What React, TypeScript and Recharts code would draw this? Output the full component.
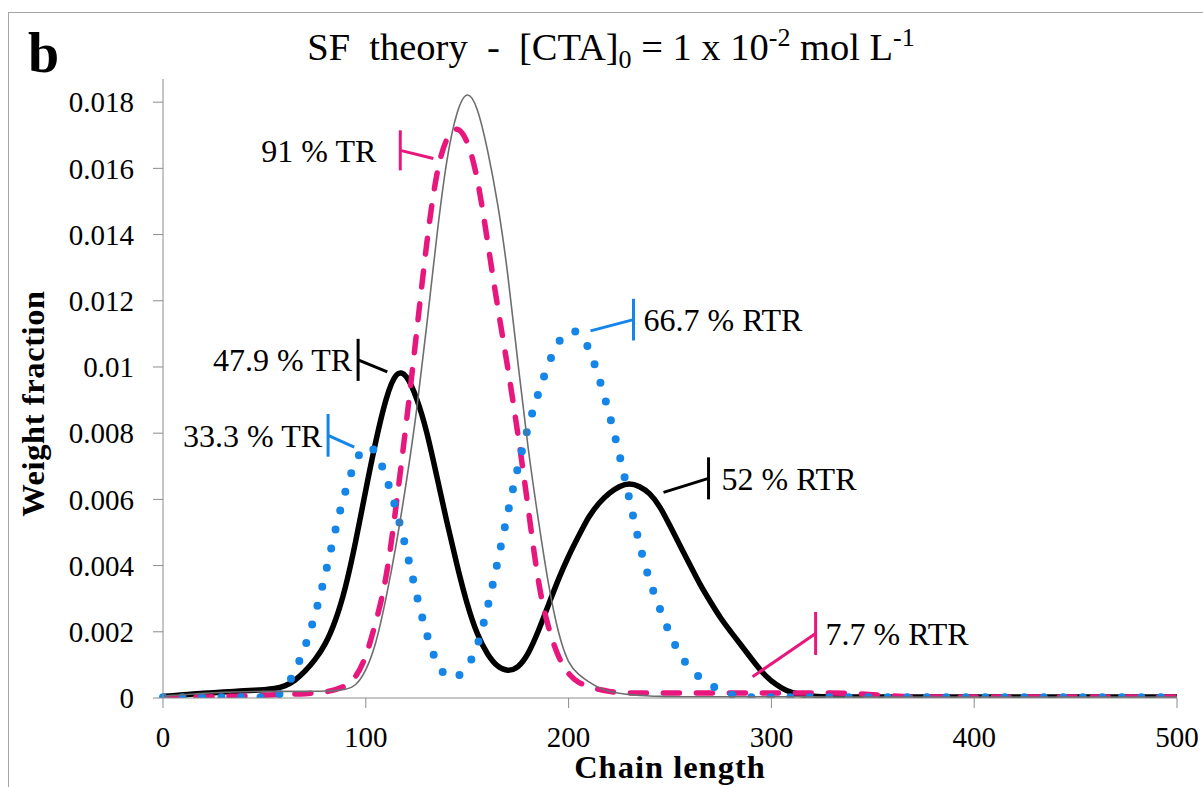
import React from "react";
import {
  LineChart,
  Line,
  XAxis,
  YAxis,
  ReferenceLine,
  ReferenceDot,
} from "recharts";

// chain length grid (x)
const chainLength = [
  0, 5, 10, 15, 20, 25, 30, 35, 40, 45, 50, 55, 60, 65, 70, 75, 80, 85, 90, 95,
  100, 105, 110, 115, 120, 125, 130, 135, 140, 145, 150, 155, 160, 165, 170, 175,
  180, 185, 190, 195, 200, 205, 210, 215, 220, 225, 230, 235, 240, 245, 250, 255,
  260, 265, 270, 275, 280, 285, 290, 295, 300, 305, 310, 315, 320,
  330, 340, 350, 360, 370, 380, 390, 400, 410, 420, 430, 440, 450, 460, 470, 480, 490, 500,
];

// thin grey curve (no transfer)
const noTransfer = [
  0.00005, 0.00008, 0.0001, 0.00012, 0.00014, 0.00016, 0.00017, 0.00018, 0.00019, 0.0002,
  0.0002, 0.0002, 0.0002, 0.0002, 0.0002, 0.0002, 0.00021, 0.00022, 0.00025, 0.00035,
  0.0008, 0.0016, 0.003, 0.0046, 0.0065, 0.0086, 0.0112, 0.014, 0.0164, 0.0178,
  0.0184, 0.0179, 0.0166, 0.015, 0.0129, 0.0101, 0.0075, 0.0054, 0.0034, 0.0019,
  0.001, 0.0007, 0.00048, 0.0003, 0.0002, 0.00014, 0.0001, 0.00008, 0.00006, 0.00005,
  0.00004, 0.00004, 0.00004, 0.00004, 0.00004, 0.00004, 0.00004, 0.00004, 0.00004, 0.00004,
  0.00004, 0.00004, 0.00004, 0.00004, 0.00004,
  0.00003, 0.00003, 0.00003, 0.00003, 0.00003, 0.00003, 0.00003, 0.00003, 0.00003,
  0.00003, 0.00003, 0.00003, 0.00003, 0.00003, 0.00003, 0.00003, 0.00003, 0.00003,
];

// pink dashed: 91 % TR / 7.7 % RTR
const tr91 = [
  0, 0.00001, 0.00002, 0.00003, 0.00003, 0.00004, 0.00005, 0.00005, 0.00006, 0.00007,
  0.00008, 0.0001, 0.00011, 0.00012, 0.00013, 0.00015, 0.00018, 0.00025, 0.00035, 0.0006,
  0.0012, 0.0023, 0.0035, 0.0058, 0.0083, 0.011, 0.0138, 0.016, 0.017, 0.0173,
  0.0169, 0.0158, 0.0138, 0.0118, 0.01, 0.008, 0.0058, 0.0034, 0.0021, 0.0012,
  0.0007, 0.00045, 0.00035, 0.00025, 0.0002, 0.00015, 0.00015, 0.00015, 0.00015, 0.00015,
  0.00015, 0.00015, 0.00015, 0.00015, 0.00015, 0.00015, 0.00015, 0.00015, 0.00015, 0.00015,
  0.00015, 0.00015, 0.00015, 0.00015, 0.00015,
  0.00015, 0.00014, 0.0001, 0.00006, 0.00003, 0.00003, 0.00003, 0.00003, 0.00003,
  0.00003, 0.00003, 0.00003, 0.00003, 0.00003, 0.00003, 0.00003, 0.00003, 0.00003,
];

// blue dotted: 33.3 % TR / 66.7 % RTR
const tr33 = [
  0.00002, 0.00002, 0.00002, 0.00002, 0.00002, 0.00002, 0.00002, 0.00002, 0.00002, 0.00002,
  0.00002, 0.00002, 0.0002, 0.0008, 0.0015, 0.0025, 0.0037, 0.0051, 0.0063, 0.0072,
  0.0077, 0.0075, 0.0067, 0.0057, 0.0045, 0.0031, 0.0019, 0.001, 0.0006, 0.0006,
  0.0009, 0.0015, 0.0027, 0.0041, 0.0056, 0.007, 0.0082, 0.0092, 0.0101, 0.0108,
  0.0111, 0.0111, 0.0106, 0.0097, 0.0086, 0.0074, 0.006, 0.0046, 0.0035, 0.0027,
  0.0019, 0.0013, 0.00085, 0.0006, 0.0004, 0.0002, 0.0001, 0.00005, 0.00002, 0.00002,
  0.00002, 0.00002, 0.00002, 0.00002, 0.00002,
  0.00002, 0.00002, 0.00002, 0.00002, 0.00002, 0.00002, 0.00002, 0.00002, 0.00002,
  0.00002, 0.00002, 0.00002, 0.00002, 0.00002, 0.00002, 0.00002, 0.00002, 0.00002,
];

// thick black: 47.9 % TR / 52 % RTR
const tr48 = [
  0.00005, 0.00007, 0.0001, 0.00012, 0.00014, 0.00016, 0.00018, 0.0002, 0.00022, 0.00023,
  0.00025, 0.00028, 0.00035, 0.00052, 0.0008, 0.00115, 0.0016, 0.0023, 0.0033, 0.0047,
  0.0063, 0.0078, 0.0091, 0.0099, 0.0098, 0.0091, 0.0081, 0.0067, 0.0053, 0.004,
  0.0028, 0.0019, 0.0013, 0.00093, 0.0008, 0.0009, 0.0013, 0.002, 0.0028, 0.0036,
  0.0043, 0.0049, 0.0055, 0.0059, 0.0062, 0.0064, 0.0065, 0.0064, 0.0062, 0.0058,
  0.0052, 0.0046, 0.004, 0.0034, 0.0029, 0.0024, 0.002, 0.0016, 0.0012, 0.0008,
  0.0005, 0.0003, 0.00015, 0.0001, 0.00005,
  0.00003, 0.00003, 0.00003, 0.00003, 0.00003, 0.00003, 0.00003, 0.00003, 0.00003,
  0.00003, 0.00003, 0.00003, 0.00003, 0.00003, 0.00003, 0.00003, 0.00003, 0.00003,
];

const xTicks = [0, 100, 200, 300, 400, 500];
const yTicks = [0, 0.002, 0.004, 0.006, 0.008, 0.01, 0.012, 0.014, 0.016, 0.018];

const PINK = "#E8177E";
const BLUE = "#1585E8";
const GREY = "#6e6e6e";
const FONT = "'Liberation Serif', serif";

// callout labels: bar at x between yTop/yBottom, leader to (tipX, tipY)
const callouts = [
  { text: "91 % TR", color: PINK, x: 117, yTop: 0.01715, yBottom: 0.01594, tipX: 133.3, tipY: 0.0163, side: "left", gap: 24 },
  { text: "47.9 % TR", color: "#000", x: 96.2, yTop: 0.01085, yBottom: 0.00958, tipX: 110.6, tipY: 0.00985, side: "left", gap: 6 },
  { text: "33.3 % TR", color: BLUE, x: 81.4, yTop: 0.00858, yBottom: 0.00729, tipX: 94.3, tipY: 0.00758, side: "left", gap: 6 },
  { text: "66.7 % RTR", color: BLUE, x: 232, yTop: 0.01206, yBottom: 0.0108, tipX: 210.8, tipY: 0.01109, side: "right", gap: 10 },
  { text: "52 % RTR", color: "#000", x: 269, yTop: 0.00727, yBottom: 0.006, tipX: 246.8, tipY: 0.00621, side: "right", gap: 13 },
  { text: "7.7 % RTR", color: PINK, x: 321.8, yTop: 0.0026, yBottom: 0.0013, tipX: 290.7, tipY: 0.00064, side: "right", gap: 10 },
];

const data = chainLength.map((x, i) => ({
  x,
  grey: noTransfer[i],
  pink: tr91[i],
  blue: tr33[i],
  black: tr48[i],
}));

const fmtY = (v: number) => (v === 0 ? "0" : String(+v.toFixed(3)));

const YTitle = (props: any) => {
  const vb = props.viewBox || { x: 0, y: 66, width: 154, height: 619 };
  const cx = vb.x + 24;
  const cy = vb.y + vb.height / 2 + 15;
  return (
    <text
      x={cx}
      y={cy}
      transform={`rotate(-90 ${cx} ${cy})`}
      textAnchor="middle"
      dominantBaseline="central"
      fontFamily={FONT}
      fontWeight="bold"
      fontSize={32.5}
      letterSpacing={0.6}
      fill="#000"
    >
      Weight fraction
    </text>
  );
};

export default function App() {
  const W = 1194;
  const H = 774;
  return (
    // fixed so the overflowing frame does not bring scrollbars
    <div
      style={{
        position: "fixed",
        left: 8,
        top: 12,
        width: W,
        height: H,
        borderTop: "1px solid #a6a6a6",
        borderLeft: "1px solid #a6a6a6",
        background: "#fff",
      }}
    >
      <LineChart
        width={W}
        height={H}
        data={data}
        margin={{ top: 66, right: 26, left: 0, bottom: 0 }}
      >
        <XAxis
          dataKey="x"
          type="number"
          domain={[0, 500]}
          ticks={xTicks}
          height={89}
          tickSize={10}
          tickMargin={18}
          axisLine={{ stroke: "#8c8c8c" }}
          tickLine={{ stroke: "#8c8c8c" }}
          tick={{ fill: "#000", fontSize: 29, fontFamily: FONT }}
          label={{
            value: "Chain length",
            position: "insideBottom",
            offset: 9,
            style: { fontFamily: FONT, fontWeight: "bold", fontSize: 32.5, letterSpacing: 1, fill: "#000" },
          }}
        />
        <YAxis
          type="number"
          domain={[0, 0.0187]}
          ticks={yTicks}
          width={154}
          tickSize={10}
          tickMargin={19}
          tickFormatter={fmtY}
          axisLine={{ stroke: "#8c8c8c" }}
          tickLine={{ stroke: "#8c8c8c" }}
          tick={{ fill: "#000", fontSize: 29, fontFamily: FONT }}
          allowDataOverflow
          label={YTitle}
        />

        <Line
          dataKey="black"
          type="basis"
          stroke="#000"
          strokeWidth={5.5}
          dot={false}
          activeDot={false}
          isAnimationActive={false}
        />
        <Line
          dataKey="pink"
          type="basis"
          stroke={PINK}
          strokeWidth={5.5}
          strokeDasharray="16 17"
          strokeLinecap="round"
          dot={false}
          activeDot={false}
          isAnimationActive={false}
        />
        <Line
          dataKey="blue"
          type="basis"
          stroke={BLUE}
          strokeWidth={8}
          strokeDasharray="0 19.5"
          strokeLinecap="round"
          dot={false}
          activeDot={false}
          isAnimationActive={false}
        />
        <Line
          dataKey="grey"
          type="basis"
          stroke={GREY}
          strokeWidth={1.6}
          dot={false}
          activeDot={false}
          isAnimationActive={false}
        />

        {/* callouts */}
        {callouts.map((c) => (
          <ReferenceLine
            key={c.text + "-bar"}
            segment={[
              { x: c.x, y: c.yTop },
              { x: c.x, y: c.yBottom },
            ]}
            stroke={c.color}
            strokeWidth={3}
          />
        ))}
        {callouts.map((c) => (
          <ReferenceLine
            key={c.text + "-lead"}
            segment={[
              { x: c.x, y: (c.yTop + c.yBottom) / 2 },
              { x: c.tipX, y: c.tipY },
            ]}
            stroke={c.color}
            strokeWidth={3}
          />
        ))}
        {callouts.map((c) => (
          <ReferenceDot
            key={c.text}
            x={c.x}
            y={(c.yTop + c.yBottom) / 2}
            r={0}
            fill="none"
            stroke="none"
            label={{
              value: c.text,
              position: c.side as any,
              offset: c.gap,
              style: { fontFamily: FONT, fontSize: 32, fill: "#000" },
            }}
          />
        ))}
      </LineChart>

      <svg
        width={W}
        height={H}
        style={{ position: "absolute", left: 0, top: 0, pointerEvents: "none" }}
      >
        <text x={19} y={59} fontFamily={FONT} fontWeight="bold" fontSize={56} fill="#000">
          b
        </text>
        <text
          x={602}
          y={47}
          textAnchor="middle"
          fontFamily={FONT}
          fontSize={38.5}
          fill="#000"
          style={{ whiteSpace: "pre" }}
        >
          {"SF  theory  -  [CTA]"}
          <tspan dy={8} fontSize={26}>0</tspan>
          <tspan dy={-8}>{" = 1 x 10"}</tspan>
          <tspan dy={-14} fontSize={26}>-2</tspan>
          <tspan dy={14}>{" mol L"}</tspan>
          <tspan dy={-14} fontSize={26}>-1</tspan>
        </text>
      </svg>
    </div>
  );
}
